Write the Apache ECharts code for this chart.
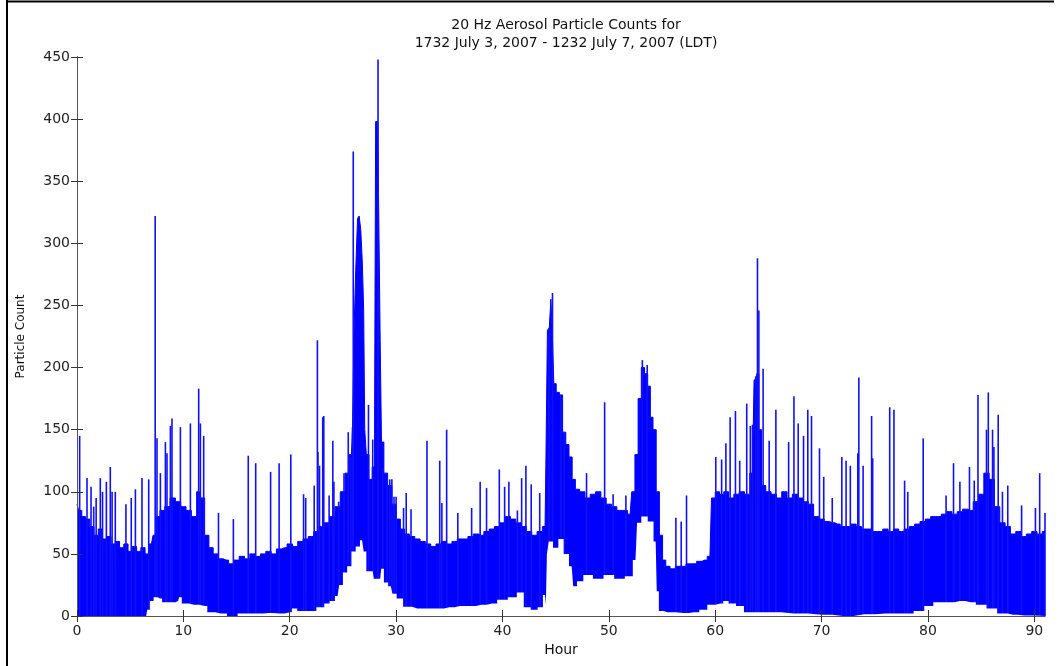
<!DOCTYPE html>
<html>
<head>
<meta charset="utf-8">
<script src="https://cdn.jsdelivr.net/npm/echarts@6/dist/echarts.min.js"></script>
<style>
html,body{margin:0;padding:0;background:#fff;}
#chart{width:1058px;height:666px;}
</style>
</head>
<body>
<div id="chart"></div>
<script>
// ---- data ----
const titleLines = ['20 Hz Aerosol Particle Counts for', '1732 July 3, 2007 - 1232 July 7, 2007 (LDT)'];
const xTicks = [0, 10, 20, 30, 40, 50, 60, 70, 80, 90];
const yTicks = [0, 50, 100, 150, 200, 250, 300, 350, 400, 450];

// dense upper body of the signal (hour, count)
const bodyHour = [0,0.3,0.6,1.0,1.4,1.8,2.2,2.6,3.0,3.4,3.8,4.2,4.6,5.0,5.4,5.8,6.2,6.6,7.0,
  7.3,7.6,8.0,8.5,9.0,9.5,10.0,10.5,11.0,11.5,11.8,12.2,12.6,
  13,13.5,14,14.5,15,15.5,16,16.5,17,17.5,18,18.5,19,19.5,20,20.5,21,21.5,22,22.5,23,
  23.5,24,24.5,25,25.4,25.8,26.0,26.1,26.3,26.45,26.6,26.75,26.9,27.0,27.1,27.3,27.6,27.9,28.05,28.1,28.45,28.55,28.7,29.0,29.4,29.8,30.2,30.6,31,
  31.5,32,32.5,33,33.5,34,34.5,35,35.5,36,36.5,37,37.5,38,38.5,39,39.5,40,40.5,41,41.5,42,42.5,43,43.5,44.0,
  44.15,44.3,44.5,44.6,44.75,44.9,45.2,45.5,45.8,46.1,46.4,46.7,47.0,47.5,48,48.5,49,49.5,50,50.5,51,51.5,52,52.3,52.6,52.9,53.2,53.5,53.8,54.0,54.3,54.6,54.9,55.2,
  55.5,56,56.5,57,57.5,58,58.5,59,59.5,59.8,60.2,60.6,61,61.5,62,62.5,63,63.5,63.8,64.0,64.2,64.5,65,65.5,66,66.5,67,67.5,68,68.5,69,69.5,
  70,70.5,71,71.5,72,72.5,73,73.5,74,74.5,75,75.5,76,76.5,77,77.5,78,78.5,79,79.5,80,80.5,81,81.5,82,82.5,83,83.5,84,84.5,85,85.5,86,86.5,87,87.5,88,88.5,89,89.5,90,90.5,91];
const bodyCount = [90,85,80,78,72,65,70,62,64,58,60,55,58,52,56,52,55,50,58,
  65,80,85,88,95,92,88,85,80,100,95,65,55,
  50,46,45,42,45,48,46,50,48,50,52,50,54,55,58,56,60,62,64,68,72,
  75,80,88,100,115,130,150,231,278,320,322,311,284,246,150,130,110,120,160,398,393,222,140,115,105,90,78,70,66,
  64,62,60,58,56,58,60,58,60,62,62,64,66,65,68,70,72,75,80,78,75,72,68,65,68,72,
  120,230,232,255,230,187,180,178,148,138,128,110,102,100,95,98,100,95,90,88,85,85,82,100,130,175,200,195,185,160,150,100,65,45,
  40,38,40,40,42,42,44,45,48,95,100,98,100,95,98,100,98,115,190,195,150,105,100,98,95,100,95,98,95,92,90,80,
  78,76,75,74,72,72,74,72,70,70,68,68,70,68,70,68,70,72,74,76,78,80,80,82,84,82,84,86,85,92,98,115,110,88,75,72,66,68,64,66,68,66,68];

// lower envelope of the signal (white below it)
const lowHour = [0,6.5,6.7,7.0,7.4,7.8,8.2,9.0,9.5,9.7,10.0,11.0,12.0,12.5,13.5,14.7,15.5,17,18,19,20,20.4,21,22,23,23.5,24,24.5,24.8,25.2,25.6,26.0,26.4,26.8,27.1,27.3,27.8,28.0,28.5,28.7,29.0,29.5,29.8,30.3,31,32,33,34,35,36,37,38,39,40,41,41.7,42.3,43,43.6,44.0,44.15,
  44.2,44.5,45,45.5,46,46.5,46.8,47.2,48,49,50,51,52,52.5,52.8,53.3,54,54.4,54.6,54.8,55.5,57,58,59,59.5,60.5,61,61.5,62.4,63,65,67.4,70,72,74,76,78,79.3,80,81,82,83,84,85,86,87,88,89,91];
const lowCount = [0,0,5,12,15,14,11,11,12,15,10,9,8,3,2,0,2,2,2.5,2,3,6,4,4,7,10,12,16,25,35,40,52,56,61,52,36,36,30,30,38,27,24,18,14,7.5,6,6,6,7,8,8,9,10,13,15,19,7,5,7,17,9,
  50,60,55,62,50,40,24,28,33,30,33,30,32,45,75,80,76,60,20,4,3,2.5,3,5,9,10,12,10,8,3,3,2,1,0,1.5,2,2,4,8,11,11,12,11,9,6,2,1,0.5,0];

// isolated thin spikes (hour, count)
const spikeHour = [0.25,0.94,1.32,1.57,1.8,2.19,2.4,2.76,3.13,3.3,3.6,4.6,5.1,5.49,6.11,6.74,7.35,7.52,7.84,8.31,8.46,8.78,8.93,9.72,10.66,11.44,11.6,11.91,13.3,14.7,16.1,16.8,18.2,19.0,20.1,
  21.3,21.5,22.3,22.6,22.65,22.8,23.1,23.2,23.7,24.05,24.15,24.6,25.1,25.5,25.75,25.9,25.97,27.4,27.8,28.3,28.75,29.15,29.4,29.6,29.8,30.0,30.7,30.95,31.4,32.9,
  34.1,34.3,34.75,35.8,37.1,37.9,38.5,39.7,40.2,40.6,41.4,41.8,42.2,42.7,43.5,44.37,44.7,45.5,45.8,47.9,49.6,50.4,51.6,53.15,53.6,56.3,56.8,57.3,
  60.05,60.6,61.0,61.4,61.9,62.3,62.96,63.3,63.5,63.8,63.97,64.1,64.5,65.07,65.7,66.9,67.4,67.8,68.3,68.7,69.05,69.8,70.2,71.0,71.9,72.3,72.7,73.4,73.5,73.9,74.7,74.8,
  76.4,76.8,77.8,78.1,79.55,81.7,82.4,83.0,83.9,84.35,84.7,85.5,85.67,86.07,86.2,86.6,87.0,87.5,88.8,90.1,90.5,91.0];
const spikeCount = [145,111,104,88,95,111,100,108,120,100,100,90,95,102,111,110,322,143,115,140,131,153,159,152,155,183,155,145,83,78,129,123,116,123,130,
  98,95,105,222,132,121,160,161,97,141,108,92,115,148,128,152,374,170,142,448,119,111,110,110,96,96,87,99,86,141,
  125,91,150,83,87,108,103,118,104,108,85,111,121,106,99,232,260,178,148,115,172,98,97,206,202,79,76,97,
  128,126,139,160,165,125,171,153,154,193,288,246,199,141,166,140,177,155,145,166,161,135,112,95,128,125,121,131,192,121,161,127,
  168,166,109,100,143,97,123,108,120,109,178,150,180,150,136,162,100,105,89,87,115,83];

// ---- chart ----
const pairs = (a, b) => a.map((h, i) => [h, b[i]]);
const FONT = 'DejaVu Sans';
const chart = echarts.init(document.getElementById('chart'), null, {renderer: 'canvas'});

const baseX = {
  type: 'value', min: 0, max: 91, interval: 10, z: 10,
  axisLine: {show: true, lineStyle: {color: '#555', width: 1}},
  axisTick: {show: true, inside: true, length: 6, lineStyle: {color: '#333'}, customValues: xTicks},
  splitLine: {show: false}
};
const baseY = {
  type: 'value', min: 0, max: 450, interval: 50, z: 10,
  axisLine: {show: true, lineStyle: {color: '#555', width: 1}},
  axisTick: {show: true, inside: true, length: 6, lineStyle: {color: '#333'}, customValues: yTicks},
  splitLine: {show: false}
};

chart.setOption({
  animation: false,
  backgroundColor: '#fff',
  title: {
    text: titleLines.join('\n'),
    left: 561, textAlign: 'center', top: 11,
    textStyle: {fontFamily: FONT, fontSize: 14, fontWeight: 'normal', color: '#111', lineHeight: 18}
  },
  grid: {left: 77, right: 13, top: 57, bottom: 50, containLabel: false},
  xAxis: [
    Object.assign({}, baseX, {
      position: 'bottom',
      name: 'Hour', nameLocation: 'middle', nameGap: 24,
      nameTextStyle: {fontFamily: FONT, fontSize: 14, color: '#111'},
      axisLabel: {show: true, margin: 8, fontFamily: FONT, fontSize: 14, color: '#222', customValues: xTicks}
    }),
    Object.assign({}, baseX, {position: 'top', axisLabel: {show: false}})
  ],
  yAxis: [
    Object.assign({}, baseY, {
      position: 'left',
      name: 'Particle Count', nameLocation: 'middle', nameGap: 50, nameRotate: 90,
      nameTextStyle: {fontFamily: FONT, fontSize: 12, color: '#111'},
      axisLabel: {show: true, margin: 7, fontFamily: FONT, fontSize: 14, color: '#222', customValues: yTicks}
    }),
    Object.assign({}, baseY, {position: 'right', axisLabel: {show: false}})
  ],
  series: [
    {
      type: 'line', name: 'body', data: pairs(bodyHour, bodyCount),
      showSymbol: false, z: 2, step: 'middle',
      lineStyle: {color: '#0000ff', width: 1},
      areaStyle: {color: '#0000ff', opacity: 1}
    },
    {
      type: 'custom', name: 'spikes', data: pairs(spikeHour, spikeCount), z: 3,
      renderItem: function (params, api) {
        const p0 = api.coord([api.value(0), 0]);
        const p1 = api.coord([api.value(0), api.value(1)]);
        return {type: 'line', shape: {x1: p0[0], y1: p0[1], x2: p1[0], y2: p1[1]},
          style: {stroke: '#1010ff', lineWidth: 1.6}};
      }
    },
    {
      type: 'line', name: 'low', data: pairs(lowHour, lowCount),
      showSymbol: false, z: 4, step: 'middle',
      lineStyle: {color: '#ffffff', width: 0},
      areaStyle: {color: '#ffffff', opacity: 1}
    }
  ],
  graphic: [
    {type: 'line', shape: {x1: 7, y1: 0, x2: 7, y2: 666}, style: {stroke: '#000', lineWidth: 2}, z: 100},
    {type: 'line', shape: {x1: 6, y1: 1.5, x2: 1054, y2: 1.5}, style: {stroke: '#000', lineWidth: 2}, z: 100}
  ]
});
</script>
</body>
</html>
